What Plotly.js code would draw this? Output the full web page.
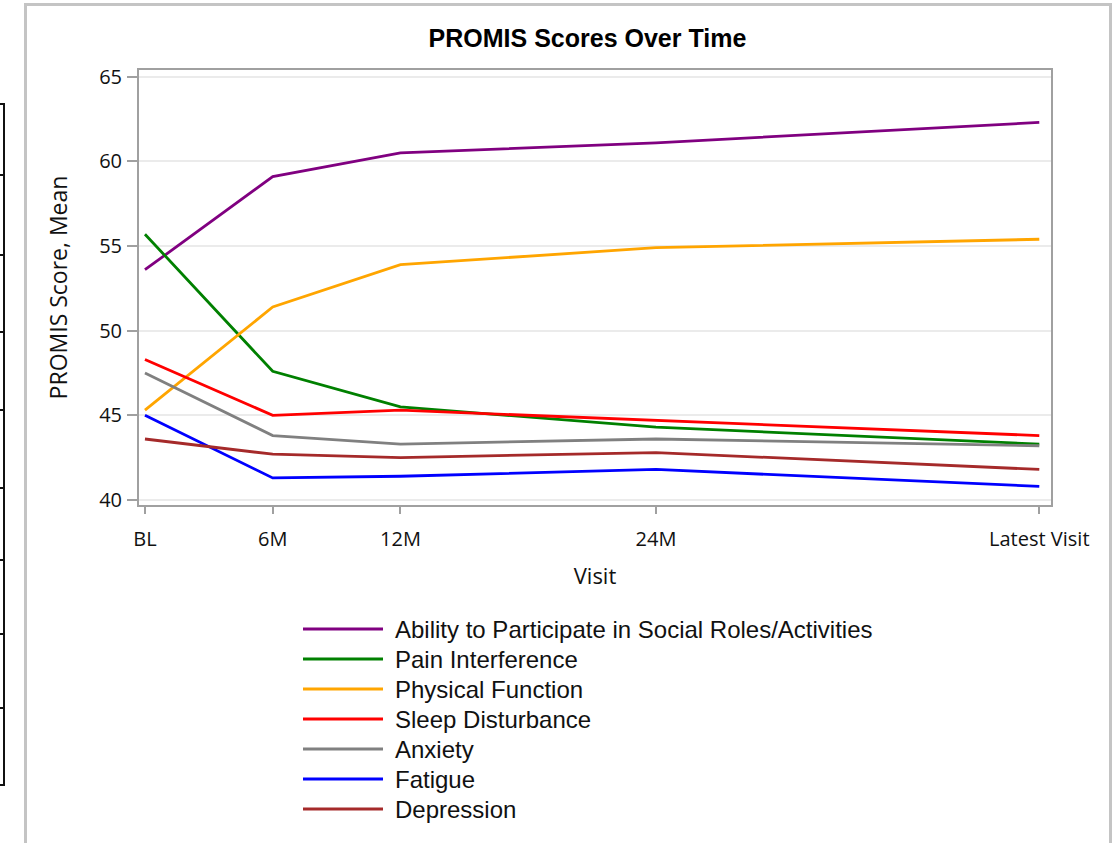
<!DOCTYPE html>
<html>
<head>
<meta charset="utf-8">
<script src="https://cdn.plot.ly/plotly-3.0.1.min.js"></script>
<style>
  html, body { margin: 0; padding: 0; background: #ffffff; }
  #wrap { position: relative; width: 1119px; height: 843px; overflow: hidden; }
  #chart { position: absolute; left: 0; top: 0; width: 1119px; height: 843px; }
  #frame { position: absolute; left: 24px; top: 3px; width: 1088px; height: 900px;
           border: 3px solid #c4c4c4; pointer-events: none; box-sizing: border-box; }
  #edge { position: absolute; left: 3px; top: 103px; width: 2px; height: 683px; background: #111; pointer-events: none; }
  .tick { position: absolute; left: 0; width: 5px; height: 2px; background: #111; pointer-events: none; }
</style>
</head>
<body>
<div id="wrap">
  <div id="chart"></div>
  <div id="frame"></div>
  <div id="edge"></div>
  <div class="tick" style="top:103px"></div>
  <div class="tick" style="top:174px"></div>
  <div class="tick" style="top:254px"></div>
  <div class="tick" style="top:331px"></div>
  <div class="tick" style="top:409px"></div>
  <div class="tick" style="top:487px"></div>
  <div class="tick" style="top:559px"></div>
  <div class="tick" style="top:633px"></div>
  <div class="tick" style="top:707px"></div>
  <div class="tick" style="top:784px"></div>
</div>
<script>
// Visit positions (months) and their labels
var visitMonths = [0, 6, 12, 24, 42];
var visitLabels = ["BL", "6M", "12M", "24M", "Latest Visit"];

// Series (mean PROMIS scores)
var seriesNames = [
  "Ability to Participate in Social Roles/Activities",
  "Pain Interference",
  "Physical Function",
  "Sleep Disturbance",
  "Anxiety",
  "Fatigue",
  "Depression"
];
var ability   = [53.6, 59.1, 60.5, 61.1, 62.3];
var pain      = [55.7, 47.6, 45.5, 44.3, 43.3];
var physical  = [45.3, 51.4, 53.9, 54.9, 55.4];
var sleep     = [48.3, 45.0, 45.3, 44.7, 43.8];
var anxiety   = [47.5, 43.8, 43.3, 43.6, 43.2];
var fatigue   = [45.0, 41.3, 41.4, 41.8, 40.8];
var depression= [43.6, 42.7, 42.5, 42.8, 41.8];
var seriesValues = [ability, pain, physical, sleep, anxiety, fatigue, depression];
var seriesColors = ["#800080", "#008000", "#FFA500", "#FF0000", "#808080", "#0000FF", "#A52A2A"];

var yTicks = [40, 45, 50, 55, 60, 65];

var traces = seriesNames.map(function (name, i) {
  return {
    type: "scatter",
    mode: "lines",
    name: name,
    x: visitMonths,
    y: seriesValues[i],
    line: { color: seriesColors[i], width: 2.8 }
  };
});

// Plot-area geometry (pixels) used to place the legend block below the axes
var W = 1119, H = 843;
var M = { l: 139, r: 68, t: 70, b: 338 };
var pw = W - M.l - M.r, ph = H - M.t - M.b;
function px2x(px) { return (px - M.l) / pw; }
function py2y(py) { return (H - M.b - py) / ph; }

// Legend block (line sample + label per series), drawn as layout shapes/annotations
var legendShapes = [], legendNotes = [];
seriesNames.forEach(function (name, i) {
  var cy = 629 + 30 * i;
  legendShapes.push({
    type: "line", xref: "paper", yref: "paper",
    x0: px2x(303), x1: px2x(383), y0: py2y(cy), y1: py2y(cy),
    line: { color: seriesColors[i], width: 3 }
  });
  legendNotes.push({
    xref: "paper", yref: "paper",
    x: px2x(393), y: py2y(cy), xanchor: "left", yanchor: "middle",
    text: name, showarrow: false,
    font: { family: "Arial, Liberation Sans, sans-serif", size: 24, color: "#111" }
  });
});

var tickFont = { family: "Open Sans, sans-serif", size: 20, color: "#111" };

var layout = {
  width: W,
  height: H,
  paper_bgcolor: "#ffffff",
  plot_bgcolor: "#ffffff",
  margin: M,
  showlegend: false,
  title: {
    text: "<b>PROMIS Scores Over Time</b>",
    font: { family: "Arial, Liberation Sans, sans-serif", size: 25, color: "#000" },
    x: 0.525, xanchor: "center",
    y: 1 - 38 / 843, yanchor: "middle"
  },
  xaxis: {
    range: [-0.28, 42.55],
    tickmode: "array",
    tickvals: visitMonths,
    ticktext: visitLabels,
    tickangle: 0,
    ticks: "outside", ticklen: 7, tickwidth: 2, tickcolor: "#a0a0a0",
    ticklabelstandoff: 8,
    tickfont: tickFont,
    showgrid: false,
    zeroline: false,
    automargin: false,
    showline: true, linecolor: "#a0a0a0", linewidth: 2, mirror: true,
    title: { text: "Visit", font: { family: "Open Sans, sans-serif", size: 22, color: "#111" }, standoff: 18 }
  },
  yaxis: {
    range: [39.7, 65.4],
    tickmode: "array",
    tickvals: yTicks,
    ticks: "outside", ticklen: 10, tickwidth: 2, tickcolor: "#a0a0a0",
    ticklabelstandoff: 1,
    tickfont: tickFont,
    showgrid: true, gridcolor: "#ebebeb", gridwidth: 2,
    zeroline: false,
    automargin: false,
    showline: true, linecolor: "#a0a0a0", linewidth: 2, mirror: true,
    title: { text: "PROMIS Score, Mean", font: { family: "Open Sans, sans-serif", size: 23, color: "#111" }, standoff: 25 }
  },
  shapes: legendShapes,
  annotations: legendNotes
};

Plotly.newPlot("chart", traces, layout, { displayModeBar: false, staticPlot: true });
</script>
</body>
</html>
